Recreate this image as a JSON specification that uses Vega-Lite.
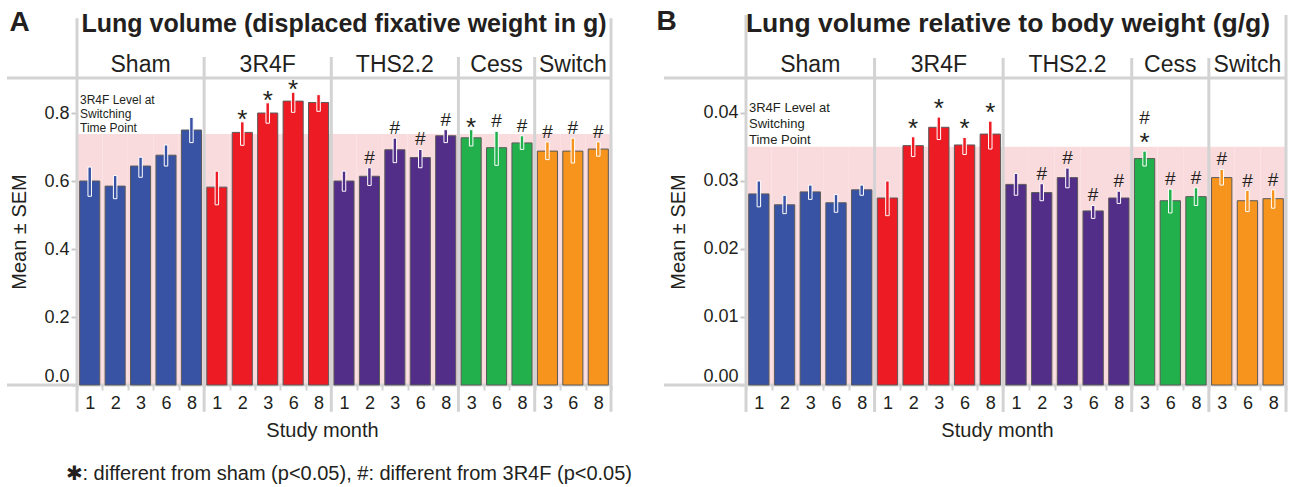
{
  "$schema": "https://vega.github.io/schema/vega-lite/v6.json",
  "padding": {"left": 5, "top": 7, "right": 0, "bottom": 0},
  "background": "white",
  "config": {
    "view": {"stroke": null},
    "font": "Liberation Sans",
    "axis": {"labelColor": "#231f20", "titleColor": "#231f20", "labelFont": "Liberation Sans", "titleFont": "Liberation Sans"},
    "text": {"color": "#231f20", "font": "Liberation Sans"}
  },
  "title": {"text": "✱: different from sham (p<0.05), #: different from 3R4F (p<0.05)", "orient": "bottom", "anchor": "start", "fontSize": 20, "fontWeight": "normal", "color": "#231f20", "baseline": "alphabetic", "dx": 60, "offset": 40},
  "spacing": 43,
  "datasets": {
    "lungA": [
      {"g": "Sham", "m": "1", "key": "Sham|1", "mean": 0.600, "lo": 0.555, "hi": 0.641, "sig": ""},
      {"g": "Sham", "m": "2", "key": "Sham|2", "mean": 0.585, "lo": 0.548, "hi": 0.616, "sig": ""},
      {"g": "Sham", "m": "3", "key": "Sham|3", "mean": 0.644, "lo": 0.611, "hi": 0.670, "sig": ""},
      {"g": "Sham", "m": "6", "key": "Sham|6", "mean": 0.676, "lo": 0.644, "hi": 0.706, "sig": ""},
      {"g": "Sham", "m": "8", "key": "Sham|8", "mean": 0.750, "lo": 0.713, "hi": 0.787, "sig": ""},
      {"g": "3R4F", "m": "1", "key": "3R4F|1", "mean": 0.582, "lo": 0.530, "hi": 0.629, "sig": ""},
      {"g": "3R4F", "m": "2", "key": "3R4F|2", "mean": 0.743, "lo": 0.705, "hi": 0.774, "sig": "*"},
      {"g": "3R4F", "m": "3", "key": "3R4F|3", "mean": 0.800, "lo": 0.770, "hi": 0.830, "sig": "*"},
      {"g": "3R4F", "m": "6", "key": "3R4F|6", "mean": 0.835, "lo": 0.802, "hi": 0.861, "sig": "*"},
      {"g": "3R4F", "m": "8", "key": "3R4F|8", "mean": 0.831, "lo": 0.805, "hi": 0.854, "sig": ""},
      {"g": "THS2.2", "m": "1", "key": "THS2.2|1", "mean": 0.600, "lo": 0.570, "hi": 0.629, "sig": ""},
      {"g": "THS2.2", "m": "2", "key": "THS2.2|2", "mean": 0.614, "lo": 0.587, "hi": 0.639, "sig": "#"},
      {"g": "THS2.2", "m": "3", "key": "THS2.2|3", "mean": 0.692, "lo": 0.654, "hi": 0.726, "sig": "#"},
      {"g": "THS2.2", "m": "6", "key": "THS2.2|6", "mean": 0.669, "lo": 0.639, "hi": 0.693, "sig": "#"},
      {"g": "THS2.2", "m": "8", "key": "THS2.2|8", "mean": 0.733, "lo": 0.713, "hi": 0.751, "sig": "#"},
      {"g": "Cess", "m": "3", "key": "Cess|3", "mean": 0.727, "lo": 0.703, "hi": 0.751, "sig": "*"},
      {"g": "Cess", "m": "6", "key": "Cess|6", "mean": 0.698, "lo": 0.646, "hi": 0.746, "sig": "#"},
      {"g": "Cess", "m": "8", "key": "Cess|8", "mean": 0.712, "lo": 0.693, "hi": 0.733, "sig": "#"},
      {"g": "Switch", "m": "3", "key": "Switch|3", "mean": 0.688, "lo": 0.663, "hi": 0.715, "sig": "#"},
      {"g": "Switch", "m": "6", "key": "Switch|6", "mean": 0.688, "lo": 0.653, "hi": 0.726, "sig": "#"},
      {"g": "Switch", "m": "8", "key": "Switch|8", "mean": 0.694, "lo": 0.673, "hi": 0.715, "sig": "#"}
    ],
    "lungB": [
      {"g": "Sham", "m": "1", "key": "Sham|1", "mean": 0.0281, "lo": 0.0262, "hi": 0.0300, "sig": ""},
      {"g": "Sham", "m": "2", "key": "Sham|2", "mean": 0.0265, "lo": 0.0252, "hi": 0.0279, "sig": ""},
      {"g": "Sham", "m": "3", "key": "Sham|3", "mean": 0.0284, "lo": 0.0273, "hi": 0.0294, "sig": ""},
      {"g": "Sham", "m": "6", "key": "Sham|6", "mean": 0.0268, "lo": 0.0254, "hi": 0.0280, "sig": ""},
      {"g": "Sham", "m": "8", "key": "Sham|8", "mean": 0.0287, "lo": 0.0279, "hi": 0.0294, "sig": ""},
      {"g": "3R4F", "m": "1", "key": "3R4F|1", "mean": 0.0275, "lo": 0.0249, "hi": 0.0300, "sig": ""},
      {"g": "3R4F", "m": "2", "key": "3R4F|2", "mean": 0.0352, "lo": 0.0336, "hi": 0.0365, "sig": "*"},
      {"g": "3R4F", "m": "3", "key": "3R4F|3", "mean": 0.0379, "lo": 0.0361, "hi": 0.0394, "sig": "*"},
      {"g": "3R4F", "m": "6", "key": "3R4F|6", "mean": 0.0353, "lo": 0.0339, "hi": 0.0364, "sig": "*"},
      {"g": "3R4F", "m": "8", "key": "3R4F|8", "mean": 0.0369, "lo": 0.0347, "hi": 0.0388, "sig": "*"},
      {"g": "THS2.2", "m": "1", "key": "THS2.2|1", "mean": 0.0295, "lo": 0.0279, "hi": 0.0311, "sig": ""},
      {"g": "THS2.2", "m": "2", "key": "THS2.2|2", "mean": 0.0283, "lo": 0.0271, "hi": 0.0296, "sig": "#"},
      {"g": "THS2.2", "m": "3", "key": "THS2.2|3", "mean": 0.0305, "lo": 0.0290, "hi": 0.0319, "sig": "#"},
      {"g": "THS2.2", "m": "6", "key": "THS2.2|6", "mean": 0.0256, "lo": 0.0245, "hi": 0.0264, "sig": "#"},
      {"g": "THS2.2", "m": "8", "key": "THS2.2|8", "mean": 0.0275, "lo": 0.0267, "hi": 0.0285, "sig": "#"},
      {"g": "Cess", "m": "3", "key": "Cess|3", "mean": 0.0333, "lo": 0.0322, "hi": 0.0344, "sig": "#*"},
      {"g": "Cess", "m": "6", "key": "Cess|6", "mean": 0.0271, "lo": 0.0253, "hi": 0.0288, "sig": "#"},
      {"g": "Cess", "m": "8", "key": "Cess|8", "mean": 0.0277, "lo": 0.0264, "hi": 0.0290, "sig": "#"},
      {"g": "Switch", "m": "3", "key": "Switch|3", "mean": 0.0305, "lo": 0.0294, "hi": 0.0317, "sig": "#"},
      {"g": "Switch", "m": "6", "key": "Switch|6", "mean": 0.0271, "lo": 0.0255, "hi": 0.0286, "sig": "#"},
      {"g": "Switch", "m": "8", "key": "Switch|8", "mean": 0.0274, "lo": 0.0260, "hi": 0.0287, "sig": "#"}
    ],
    "headers": [
      {"g": "Sham", "key": "Sham|3"},
      {"g": "3R4F", "key": "3R4F|3"},
      {"g": "THS2.2", "key": "THS2.2|3"},
      {"g": "Cess", "key": "Cess|6"},
      {"g": "Switch", "key": "Switch|6"}
    ],
    "seps": [
      {"key": "3R4F|1"},
      {"key": "THS2.2|1"},
      {"key": "Cess|3"},
      {"key": "Switch|3"}
    ],
    "one": [{}]
  },
  "hconcat": [
    {
      "width": 604,
      "height": 307,
      "title": {"text": "A", "anchor": "start", "fontSize": 28, "fontWeight": "bold", "baseline": "alphabetic", "offset": -47, "dx": 4, "color": "#231f20"},
      "layer": [
        {
          "data": {"name": "lungA"},
          "mark": {"type": "bar", "width": {"band": 1}, "color": "#fadbdd"},
          "encoding": {
            "x": {"field": "key", "type": "nominal", "title": "Study month",
              "scale": {"domain": ["Sham|1","Sham|2","Sham|3","Sham|6","Sham|8","3R4F|1","3R4F|2","3R4F|3","3R4F|6","3R4F|8","THS2.2|1","THS2.2|2","THS2.2|3","THS2.2|6","THS2.2|8","Cess|3","Cess|6","Cess|8","Switch|3","Switch|6","Switch|8"], "range": [70, 604], "paddingInner": 0, "paddingOuter": 0},
              "axis": {"title": "Study month", "labelExpr": "split(datum.value, '|')[1]", "labelAngle": 0, "tickBand": "extent", "domain": false, "grid": false, "tickColor": "#d3d3d3", "tickWidth": 2, "tickSize": 5, "labelFontSize": 18, "labelPadding": 4, "titleFontSize": 20, "titleFontWeight": "normal", "titlePadding": 8, "titleX": 315}},
            "y": {"datum": 0, "type": "quantitative", "title": "Mean ± SEM",
              "scale": {"domain": [0, 0.903], "nice": false},
              "axis": {"title": "Mean ± SEM", "values": [0, 0.2, 0.4, 0.6, 0.8], "format": ".1f", "offset": -70, "domain": false, "grid": false, "tickColor": "#c8c8c8", "tickWidth": 2, "tickSize": 6, "labelFontSize": 18, "labelPadding": 2, "labelBaseline": {"condition": {"test": "datum.value == 0", "value": "bottom"}, "value": "middle"}, "titleFontSize": 20, "titleFontWeight": "normal", "titlePadding": 14}},
            "y2": {"datum": 0.738}
          }
        },
        {
          "data": {"name": "one"},
          "mark": {"type": "rule", "color": "#d3d3d3", "strokeWidth": 3},
          "encoding": {"y": {"datum": 0.903, "type": "quantitative", "title": "Mean ± SEM"}}
        },
        {
          "data": {"name": "one"},
          "mark": {"type": "rule", "color": "#d3d3d3", "strokeWidth": 3},
          "encoding": {"y": {"datum": 0, "type": "quantitative", "title": "Mean ± SEM"}}
        },
        {
          "data": {"name": "seps"},
          "mark": {"type": "rule", "color": "#d3d3d3", "strokeWidth": 3},
          "encoding": {
            "x": {"field": "key", "type": "nominal", "bandPosition": 0, "title": "Study month"},
            "y": {"datum": -0.079, "type": "quantitative", "title": "Mean ± SEM"},
            "y2": {"datum": 0.965}
          }
        },
        {
          "data": {"name": "one"},
          "mark": {"type": "rule", "color": "#d3d3d3", "strokeWidth": 3},
          "encoding": {
            "x": {"datum": "Sham|1", "type": "nominal", "bandPosition": 0, "title": "Study month"},
            "y": {"datum": -0.079, "type": "quantitative", "title": "Mean ± SEM"},
            "y2": {"datum": 1.079}
          }
        },
        {
          "data": {"name": "one"},
          "mark": {"type": "rule", "color": "#d3d3d3", "strokeWidth": 3},
          "encoding": {
            "x": {"datum": "Switch|8", "type": "nominal", "bandPosition": 1, "title": "Study month"},
            "y": {"datum": -0.079, "type": "quantitative", "title": "Mean ± SEM"},
            "y2": {"datum": 1.079}
          }
        },
        {
          "data": {"name": "lungA"},
          "mark": {"type": "bar", "width": {"band": 0.79}, "stroke": "#5a5a5a", "strokeWidth": 1},
          "encoding": {
            "x": {"field": "key", "type": "nominal", "title": "Study month"},
            "y": {"field": "mean", "type": "quantitative", "title": "Mean ± SEM"},
            "color": {"field": "g", "type": "nominal", "scale": {"domain": ["Sham", "3R4F", "THS2.2", "Cess", "Switch"], "range": ["#3953a4", "#ed1c24", "#522e88", "#21b04b", "#f7941e"]}, "legend": null}
          }
        },
        {
          "data": {"name": "lungA"},
          "mark": {"type": "bar", "width": 3.5, "stroke": "white", "strokeWidth": 1},
          "encoding": {
            "x": {"field": "key", "type": "nominal", "title": "Study month"},
            "y": {"field": "lo", "type": "quantitative", "title": "Mean ± SEM"},
            "y2": {"field": "hi"},
            "color": {"field": "g", "type": "nominal", "legend": null}
          }
        },
        {
          "data": {"name": "lungA"},
          "transform": [{"filter": "indexof(datum.sig, '*') >= 0"}],
          "mark": {"type": "text", "text": "*", "fontSize": 26, "baseline": "alphabetic", "dy": 6},
          "encoding": {
            "x": {"field": "key", "type": "nominal", "title": "Study month"},
            "y": {"field": "hi", "type": "quantitative", "title": "Mean ± SEM"}
          }
        },
        {
          "data": {"name": "lungA"},
          "transform": [{"filter": "datum.sig == '#'"}],
          "mark": {"type": "text", "text": "#", "fontSize": 19, "baseline": "alphabetic", "dy": -4},
          "encoding": {
            "x": {"field": "key", "type": "nominal", "title": "Study month"},
            "y": {"field": "hi", "type": "quantitative", "title": "Mean ± SEM"}
          }
        },
        {
          "data": {"name": "headers"},
          "mark": {"type": "text", "fontSize": 23, "baseline": "alphabetic"},
          "encoding": {
            "x": {"field": "key", "type": "nominal", "title": "Study month"},
            "y": {"datum": 0.9206, "type": "quantitative", "title": "Mean ± SEM"},
            "text": {"field": "g"}
          }
        },
        {
          "data": {"name": "one"},
          "mark": {"type": "text", "fontSize": 25, "fontWeight": "bold", "baseline": "alphabetic"},
          "encoding": {
            "x": {"datum": "THS2.2|1", "type": "nominal", "title": "Study month"},
            "y": {"datum": 1.039, "type": "quantitative", "title": "Mean ± SEM"},
            "text": {"value": "Lung volume (displaced fixative weight in g)"}
          }
        },
        {
          "data": {"name": "one"},
          "mark": {"type": "text", "fontSize": 12, "align": "left", "baseline": "middle", "lineHeight": 14, "dx": 3},
          "encoding": {
            "x": {"datum": "Sham|1", "type": "nominal", "bandPosition": 0, "title": "Study month"},
            "y": {"datum": 0.838, "type": "quantitative", "title": "Mean ± SEM"},
            "text": {"value": ["3R4F Level at", "Switching", "Time Point"]}
          }
        }
      ]
    },
    {
      "width": 622,
      "height": 307,
      "title": {"text": "B", "anchor": "start", "fontSize": 28, "fontWeight": "bold", "baseline": "alphabetic", "offset": -47, "dx": -6, "color": "#231f20"},
      "layer": [
        {
          "data": {"name": "lungB"},
          "mark": {"type": "bar", "width": {"band": 1}, "color": "#fadbdd"},
          "encoding": {
            "x": {"field": "key", "type": "nominal", "title": "Study month",
              "scale": {"domain": ["Sham|1","Sham|2","Sham|3","Sham|6","Sham|8","3R4F|1","3R4F|2","3R4F|3","3R4F|6","3R4F|8","THS2.2|1","THS2.2|2","THS2.2|3","THS2.2|6","THS2.2|8","Cess|3","Cess|6","Cess|8","Switch|3","Switch|6","Switch|8"], "range": [82, 622], "paddingInner": 0, "paddingOuter": 0},
              "axis": {"title": "Study month", "labelExpr": "split(datum.value, '|')[1]", "labelAngle": 0, "tickBand": "extent", "domain": false, "grid": false, "tickColor": "#d3d3d3", "tickWidth": 2, "tickSize": 5, "labelFontSize": 18, "labelPadding": 4, "titleFontSize": 20, "titleFontWeight": "normal", "titlePadding": 8, "titleX": 333}},
            "y": {"datum": 0, "type": "quantitative", "title": "Mean ± SEM",
              "scale": {"domain": [0, 0.045147], "nice": false},
              "axis": {"title": "Mean ± SEM", "values": [0, 0.01, 0.02, 0.03, 0.04], "format": ".2f", "offset": -82, "domain": false, "grid": false, "tickColor": "#c8c8c8", "tickWidth": 2, "tickSize": 6, "labelFontSize": 18, "labelPadding": 2, "labelBaseline": {"condition": {"test": "datum.value == 0", "value": "bottom"}, "value": "middle"}, "titleFontSize": 20, "titleFontWeight": "normal", "titlePadding": 14}},
            "y2": {"datum": 0.03504}
          }
        },
        {
          "data": {"name": "one"},
          "mark": {"type": "rule", "color": "#d3d3d3", "strokeWidth": 3},
          "encoding": {"y": {"datum": 0.045147, "type": "quantitative", "title": "Mean ± SEM"}}
        },
        {
          "data": {"name": "one"},
          "mark": {"type": "rule", "color": "#d3d3d3", "strokeWidth": 3},
          "encoding": {"y": {"datum": 0, "type": "quantitative", "title": "Mean ± SEM"}}
        },
        {
          "data": {"name": "seps"},
          "mark": {"type": "rule", "color": "#d3d3d3", "strokeWidth": 3},
          "encoding": {
            "x": {"field": "key", "type": "nominal", "bandPosition": 0, "title": "Study month"},
            "y": {"datum": -0.00397, "type": "quantitative", "title": "Mean ± SEM"},
            "y2": {"datum": 0.0481}
          }
        },
        {
          "data": {"name": "one"},
          "mark": {"type": "rule", "color": "#d3d3d3", "strokeWidth": 3},
          "encoding": {
            "x": {"datum": "Sham|1", "type": "nominal", "bandPosition": 0, "title": "Study month"},
            "y": {"datum": -0.00397, "type": "quantitative", "title": "Mean ± SEM"},
            "y2": {"datum": 0.0544}
          }
        },
        {
          "data": {"name": "one"},
          "mark": {"type": "rule", "color": "#d3d3d3", "strokeWidth": 3},
          "encoding": {
            "x": {"datum": "Switch|8", "type": "nominal", "bandPosition": 1, "title": "Study month"},
            "y": {"datum": -0.00397, "type": "quantitative", "title": "Mean ± SEM"},
            "y2": {"datum": 0.0544}
          }
        },
        {
          "data": {"name": "lungB"},
          "mark": {"type": "bar", "width": {"band": 0.79}, "stroke": "#5a5a5a", "strokeWidth": 1},
          "encoding": {
            "x": {"field": "key", "type": "nominal", "title": "Study month"},
            "y": {"field": "mean", "type": "quantitative", "title": "Mean ± SEM"},
            "color": {"field": "g", "type": "nominal", "scale": {"domain": ["Sham", "3R4F", "THS2.2", "Cess", "Switch"], "range": ["#3953a4", "#ed1c24", "#522e88", "#21b04b", "#f7941e"]}, "legend": null}
          }
        },
        {
          "data": {"name": "lungB"},
          "mark": {"type": "bar", "width": 3.5, "stroke": "white", "strokeWidth": 1},
          "encoding": {
            "x": {"field": "key", "type": "nominal", "title": "Study month"},
            "y": {"field": "lo", "type": "quantitative", "title": "Mean ± SEM"},
            "y2": {"field": "hi"},
            "color": {"field": "g", "type": "nominal", "legend": null}
          }
        },
        {
          "data": {"name": "lungB"},
          "transform": [{"filter": "indexof(datum.sig, '*') >= 0"}],
          "mark": {"type": "text", "text": "*", "fontSize": 26, "baseline": "alphabetic", "dy": 0},
          "encoding": {
            "x": {"field": "key", "type": "nominal", "title": "Study month"},
            "y": {"field": "hi", "type": "quantitative", "title": "Mean ± SEM"}
          }
        },
        {
          "data": {"name": "lungB"},
          "transform": [{"filter": "datum.sig == '#'"}],
          "mark": {"type": "text", "text": "#", "fontSize": 19, "baseline": "alphabetic", "dy": -4},
          "encoding": {
            "x": {"field": "key", "type": "nominal", "title": "Study month"},
            "y": {"field": "hi", "type": "quantitative", "title": "Mean ± SEM"}
          }
        },
        {
          "data": {"name": "lungB"},
          "transform": [{"filter": "datum.sig == '#*'"}],
          "mark": {"type": "text", "text": "#", "fontSize": 19, "baseline": "alphabetic", "dy": -27},
          "encoding": {
            "x": {"field": "key", "type": "nominal", "title": "Study month"},
            "y": {"field": "hi", "type": "quantitative", "title": "Mean ± SEM"}
          }
        },
        {
          "data": {"name": "headers"},
          "mark": {"type": "text", "fontSize": 23, "baseline": "alphabetic"},
          "encoding": {
            "x": {"field": "key", "type": "nominal", "title": "Study month"},
            "y": {"datum": 0.04603, "type": "quantitative", "title": "Mean ± SEM"},
            "text": {"field": "g"}
          }
        },
        {
          "data": {"name": "one"},
          "mark": {"type": "text", "fontSize": 26.5, "fontWeight": "bold", "baseline": "alphabetic", "dx": -8},
          "encoding": {
            "x": {"datum": "THS2.2|1", "type": "nominal", "title": "Study month"},
            "y": {"datum": 0.05196, "type": "quantitative", "title": "Mean ± SEM"},
            "text": {"value": "Lung volume relative to body weight (g/g)"}
          }
        },
        {
          "data": {"name": "one"},
          "mark": {"type": "text", "fontSize": 13, "align": "left", "baseline": "middle", "lineHeight": 16, "dx": 3},
          "encoding": {
            "x": {"datum": "Sham|1", "type": "nominal", "bandPosition": 0, "title": "Study month"},
            "y": {"datum": 0.0407, "type": "quantitative", "title": "Mean ± SEM"},
            "text": {"value": ["3R4F Level at", "Switching", "Time Point"]}
          }
        }
      ]
    }
  ]
}
